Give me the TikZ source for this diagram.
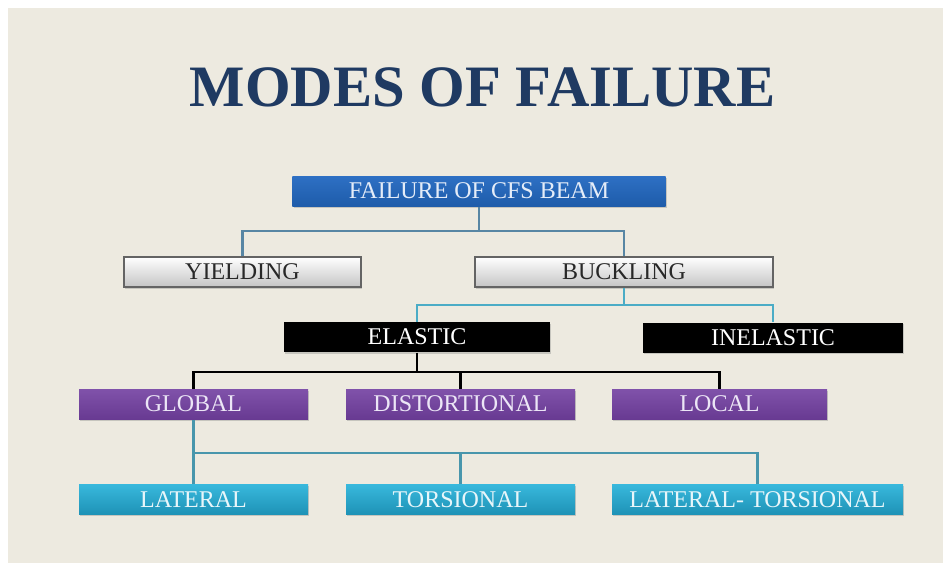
\documentclass[tikz,border=0pt]{standalone}
\usepackage{fontspec}
\setmainfont{Liberation Serif}
\usetikzlibrary{shadows}

\definecolor{pagebeige}{RGB}{237,234,224}
\definecolor{titlenavy}{RGB}{31,58,98}
\definecolor{cfsblue}{RGB}{46,112,196}
\definecolor{cfsbluedark}{RGB}{30,92,170}
\definecolor{purpletop}{RGB}{128,82,170}
\definecolor{purplebot}{RGB}{104,58,146}
\definecolor{cyantop}{RGB}{56,184,220}
\definecolor{cyanbot}{RGB}{30,146,182}
\definecolor{linkblue}{RGB}{88,134,164}
\definecolor{linkteal}{RGB}{75,172,198}
\definecolor{linkgray}{RGB}{72,150,172}

\tikzset{every picture/.style={line width=0.75pt}}
\tikzset{
  modebox/.style={inner sep=0pt, minimum height=22.5pt, font=\fontsize{18}{20}\selectfont,
    drop shadow={shadow xshift=1pt, shadow yshift=-1.2pt, opacity=0.35}},
  rootbox/.style={modebox, top color=cfsblue, bottom color=cfsbluedark, text={rgb,255:red,228;green,236;blue,248}},
  graybox/.style={modebox, top color=white, bottom color={rgb,255:red,196;green,196;blue,196},
    draw={rgb,255:red,100;green,100;blue,100}, line width=1.2pt, text={rgb,255:red,40;green,40;blue,40}},
  darkbox/.style={modebox, fill=black, text=white},
  purplebox/.style={modebox, top color=purpletop, bottom color=purplebot, text={rgb,255:red,236;green,230;blue,246}},
  cyanbox/.style={modebox, top color=cyantop, bottom color=cyanbot, text={rgb,255:red,232;green,246;blue,250}},
  link/.style={line width=2.2pt}
}

\begin{document}
\begin{tikzpicture}[x=0.75pt,y=0.75pt,yscale=-1,xscale=1]
\useasboundingbox (0,0) rectangle (949,567);
\fill[white] (0,0) rectangle (949,567);
%Background panel
\fill[pagebeige] (8,8) rectangle (943,563);

% Title
\node [anchor=base, inner sep=0pt, text=titlenavy] (title) at (482.5,107)
  {\bfseries\fontsize{44}{48}\selectfont MODES OF FAILURE};

% Level 1
\node [rootbox, minimum width=280pt] (cfs) at (479,191) {FAILURE OF CFS BEAM};

% Level 2
\node [graybox, minimum width=177.75pt] (yield) at (242.5,272) {YIELDING};
\node [graybox, minimum width=223.5pt] (buck) at (624,272) {BUCKLING};

% Level 3
\node [darkbox, minimum width=199.5pt] (elastic) at (417,337) {ELASTIC};
\node [darkbox, minimum width=195pt] (inelastic) at (773,337.5) {INELASTIC};

% Level 4
\node [purplebox, minimum width=171.75pt] (global) at (193.5,404) {GLOBAL};
\node [purplebox, minimum width=171.75pt] (dist) at (460.5,404) {DISTORTIONAL};
\node [purplebox, minimum width=161.25pt] (local) at (719.5,404) {LOCAL};

% Level 5
\node [cyanbox, minimum width=171.75pt] (lat) at (193.5,499.5) {LATERAL};
\node [cyanbox, minimum width=171.75pt] (tors) at (460.5,499.5) {TORSIONAL};
\node [cyanbox, minimum width=218.25pt] (lattors) at (757.5,499.5) {LATERAL- TORSIONAL};

%Junctions
\coordinate (j1) at (479,231);
\coordinate (j2) at (624,305);
\coordinate (j3) at (417,372);
\coordinate (j4) at (193.5,453);

%Connectors
\draw [link, color=linkblue] (cfs.south) -- (j1);
\draw [link, color=linkblue] (yield.north) |- (j1) -| (buck.north);
\draw [link, color=linkteal] (buck.south) -- (j2);
\draw [link, color=linkteal] (elastic.north) |- (j2) -| (inelastic.north);
\draw [link, color=black] (elastic.south) -- (j3);
\draw [link, color=black] (global.north) |- (j3) -| (local.north);
\draw [link, color=black] (dist.north) -- (dist.north |- j3);
\draw [link, color=linkgray] (global.south) -- (lat.north);
\draw [link, color=linkgray] (j4) -| (lattors.north);
\draw [link, color=linkgray] (tors.north) -- (tors.north |- j4);

\end{tikzpicture}
\end{document}
